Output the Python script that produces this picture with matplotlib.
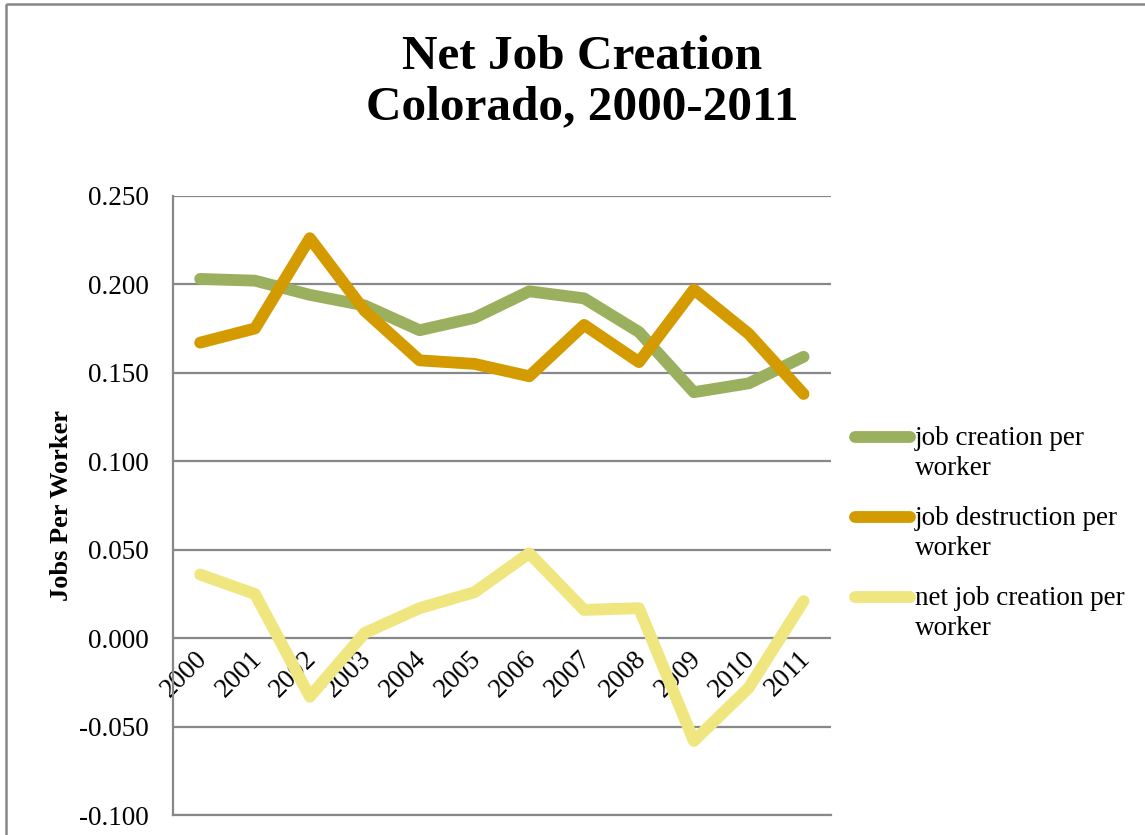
import matplotlib.pyplot as plt
from matplotlib.patches import Rectangle
from matplotlib.lines import Line2D
from matplotlib.transforms import offset_copy, Affine2D

plt.rcParams['font.family'] = ['Liberation Serif', 'DejaVu Serif']

years = ['2000', '2001', '2002', '2003', '2004', '2005',
         '2006', '2007', '2008', '2009', '2010', '2011']
creation = [0.203, 0.202, 0.194, 0.188, 0.174, 0.181,
            0.196, 0.192, 0.173, 0.139, 0.144, 0.159]
destruction = [0.167, 0.175, 0.226, 0.185, 0.157, 0.155,
               0.148, 0.177, 0.156, 0.197, 0.172, 0.138]
net = [0.036, 0.025, -0.033, 0.003, 0.017, 0.026,
       0.048, 0.016, 0.017, -0.058, -0.028, 0.021]

labels = ['job creation per\nworker', 'job destruction per\nworker',
          'net job creation per\nworker']
colors = ['#9BB05E', '#D39B00', '#EFE67F']

W, H = 1145, 835
fig = plt.figure(figsize=(W / 100, H / 100), dpi=100)
# pixel coordinates measured from the top-left corner
px = Affine2D().scale(1.0 / W, -1.0 / H).translate(0, 1) + fig.transFigure

# outer chart border (runs off the right and bottom edges)
fig.patches.append(Rectangle((6, 3.5), 1200, 900, transform=px, fill=False,
                             edgecolor='#888888', linewidth=1.8))

ax = fig.add_axes([172.7 / W, 1 - 815.3 / H, (831 - 172.7) / W, (815.3 - 195.7) / H])

x = list(range(len(years)))
for vals, c in zip([creation, destruction, net], colors):
    ax.plot(x, vals, color=c, linewidth=8.5,
            solid_capstyle='round', solid_joinstyle='round', zorder=3)

ax.set_xlim(-0.5, len(years) - 0.5)
ax.set_ylim(-0.1, 0.25)
ax.set_yticks([-0.1, -0.05, 0, 0.05, 0.1, 0.15, 0.2, 0.25])
ax.set_yticklabels(['%.3f' % v for v in ax.get_yticks()])
ax.tick_params(axis='y', length=0, pad=17, labelsize=19.5)
ax.set_xticks([])
ax.grid(axis='y', color='#888888', linewidth=1.6, zorder=1)
ax.set_axisbelow(True)
for s in ['top', 'right']:
    ax.spines[s].set_visible(False)
for s in ['left', 'bottom']:
    ax.spines[s].set_color('#888888')
    ax.spines[s].set_linewidth(1.6)

# category labels sit just under the zero line
lab_tr = offset_copy(ax.transData, fig=fig, x=12, y=-8, units='dots')
for i, yr in enumerate(years):
    ax.text(i, 0, yr, rotation=45, ha='right', va='top', fontsize=19.5,
            transform=lab_tr, zorder=2)

ax.set_ylabel('Jobs Per Worker', fontsize=19, fontweight='bold')
ax.yaxis.set_label_coords((73 - 172.7) / 658.3, 0.5)

fig.text(582, 57, 'Net Job Creation', ha='center', va='center',
         fontsize=35.5, fontweight='bold', transform=px)
fig.text(582, 107, 'Colorado, 2000-2011', ha='center', va='center',
         fontsize=35.5, fontweight='bold', transform=px)

# legend: swatch level with the first line of each wrapped label
for k, (lab, c) in enumerate(zip(labels, colors)):
    yk = 437 + 80 * k
    fig.add_artist(Line2D([855, 910], [yk, yk], transform=px, color=c,
                          linewidth=8.5, solid_capstyle='round'))
    fig.text(915, yk - 11, lab, ha='left', va='top', fontsize=19.5,
             linespacing=1.25, transform=px)

fig.savefig('out.png', dpi=100)
